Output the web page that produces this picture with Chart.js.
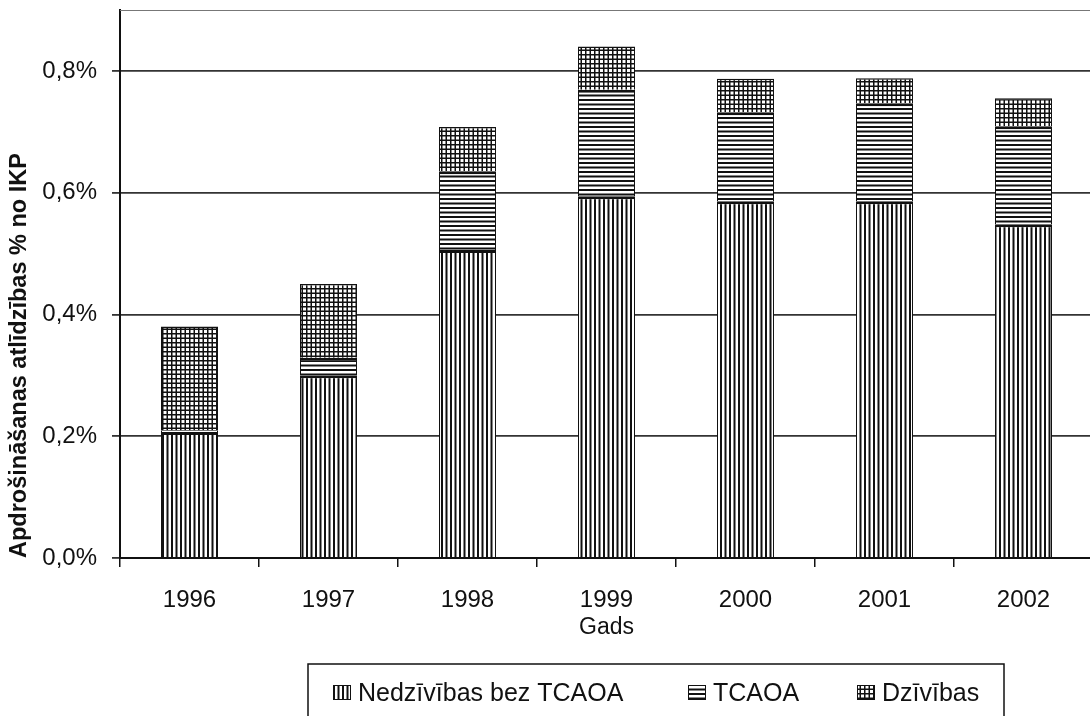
<!DOCTYPE html>
<html>
<head>
<meta charset="utf-8">
<script src="https://cdn.jsdelivr.net/npm/chart.js@4/dist/chart.umd.min.js"></script>
<style>
  html, body { margin: 0; padding: 0; background: #fff; overflow: hidden; }
  #wrap { width: 1100px; height: 716px; }
</style>
</head>
<body>
<div id="wrap"><canvas id="c" width="1100" height="716"></canvas></div>
<script>
// ---- data ----
const categories = ['1996', '1997', '1998', '1999', '2000', '2001', '2002'];
const nedzivibasBezTCAOA = [0.207, 0.300, 0.506, 0.594, 0.586, 0.586, 0.548];
const tcaoa = [0.003, 0.029, 0.129, 0.175, 0.146, 0.161, 0.161];
const dzivibas = [0.170, 0.121, 0.073, 0.071, 0.055, 0.041, 0.046];
const seriesLabels = ['Nedzīvības bez TCAOA', 'TCAOA', 'Dzīvības'];
const yTickValues = [0, 0.2, 0.4, 0.6, 0.8];
const xTitle = 'Gads';
const yTitle = 'Apdrošināšanas atlīdzības % no IKP';

const FONT = "'Liberation Sans', Arial, sans-serif";
const INK = '#111';

// ---- patterns ----
function makePattern(draw) {
  const t = document.createElement('canvas');
  t.width = 9; t.height = 9;
  const g = t.getContext('2d');
  g.fillStyle = '#fff'; g.fillRect(0, 0, 9, 9);
  g.fillStyle = INK;
  draw(g);
  return document.getElementById('c').getContext('2d').createPattern(t, 'repeat');
}
const vertPattern = makePattern(g => { g.fillRect(0, 0, 2, 9); g.fillRect(4.5, 0, 2, 9); });
const horzPattern = makePattern(g => { g.fillRect(0, 0, 9, 2); g.fillRect(0, 4.5, 9, 2); });
const gridPattern = makePattern(g => {
  g.fillRect(0, 0, 1.5, 9); g.fillRect(4.5, 0, 1.5, 9);
  g.fillRect(0, 0, 9, 1.5); g.fillRect(0, 4.5, 9, 1.5);
});

// ---- plugins ----
const whiteBg = {
  id: 'whiteBg',
  beforeDraw(chart) {
    const c = chart.ctx;
    c.save(); c.fillStyle = '#fff'; c.fillRect(0, 0, chart.width, chart.height); c.restore();
  }
};
const topBorder = {
  id: 'topBorder',
  afterDraw(chart) {
    const a = chart.chartArea, c = chart.ctx;
    c.save();
    c.strokeStyle = '#777'; c.lineWidth = 1.2;
    c.beginPath(); c.moveTo(a.left, a.top + 0.5); c.lineTo(a.right, a.top + 0.5); c.stroke();
    c.restore();
  }
};
const boxLegend = {
  id: 'boxLegend',
  afterDraw(chart, args, opts) {
    const c = chart.ctx;
    c.save();
    c.strokeStyle = INK; c.lineWidth = 1.5;
    c.strokeRect(opts.left, opts.top, opts.right - opts.left, 100);
    c.font = opts.fontSize + 'px ' + FONT;
    c.textBaseline = 'middle';
    c.textAlign = 'left';
    chart.data.datasets.forEach((ds, i) => {
      const x = opts.itemX[i];
      const cy = opts.centerY;
      c.fillStyle = ds.backgroundColor;
      c.fillRect(x, cy - 8, 18, 15);
      c.lineWidth = 1;
      c.strokeStyle = INK;
      c.strokeRect(x + 0.5, cy - 7.5, 17, 14);
      c.fillStyle = INK;
      c.fillText(ds.label, x + 25, cy + 1);
    });
    c.restore();
  }
};

const seriesValues = [nedzivibasBezTCAOA, tcaoa, dzivibas];
const patterns = [vertPattern, horzPattern, gridPattern];
const borders = [
  { top: 3, left: 1, right: 1, bottom: 0 },
  { top: 3, left: 1, right: 1, bottom: 0 },
  { top: 1.5, left: 1, right: 1, bottom: 0 }
];

new Chart(document.getElementById('c'), {
  type: 'bar',
  data: {
    labels: categories,
    datasets: seriesValues.map((vals, i) => ({
      label: seriesLabels[i],
      data: vals,
      backgroundColor: patterns[i],
      borderColor: INK,
      borderWidth: borders[i],
      borderSkipped: false,
      barPercentage: 0.41,
      categoryPercentage: 1.0
    }))
  },
  options: {
    responsive: false,
    animation: false,
    devicePixelRatio: 1,
    layout: { padding: { top: 10, right: 7, bottom: 0, left: 0 } },
    plugins: {
      legend: { display: false },
      tooltip: { enabled: false },
      boxLegend: { left: 308, right: 1004, top: 664, centerY: 693, fontSize: 25, itemX: [333, 688, 857] }
    },
    scales: {
      x: {
        stacked: true,
        afterFit(s) { s.height = 158; s.paddingLeft = 0; s.paddingRight = 0; },
        grid: { display: true, drawOnChartArea: false, drawTicks: true, tickLength: 9, color: INK, lineWidth: 1.5, offset: true },
        border: { display: true, color: INK, width: 2 },
        ticks: { color: INK, font: { family: FONT, size: 24 }, padding: 19 },
        title: { display: true, text: xTitle, color: INK, font: { family: FONT, size: 23 }, padding: { top: 0, bottom: 75 } }
      },
      y: {
        stacked: true,
        min: 0,
        max: 0.9,
        afterFit(s) { s.width = 120; s.paddingTop = 0; s.paddingBottom = 0; },
        afterBuildTicks(s) { s.ticks = yTickValues.map(v => ({ value: v })); },
        grid: { color: '#333', lineWidth: 1.8, drawTicks: true, tickLength: 8 },
        border: { display: true, color: INK, width: 2 },
        ticks: {
          color: INK,
          font: { family: FONT, size: 24 },
          padding: 15,
          callback: v => v.toFixed(1).replace('.', ',') + '%'
        },
        title: {
          display: true, text: yTitle, align: 'start', color: INK,
          font: { family: FONT, size: 23.5, weight: 'bold' },
          padding: { top: 5, bottom: 0 }
        }
      }
    }
  },
  plugins: [whiteBg, topBorder, boxLegend]
});
</script>
</body>
</html>
